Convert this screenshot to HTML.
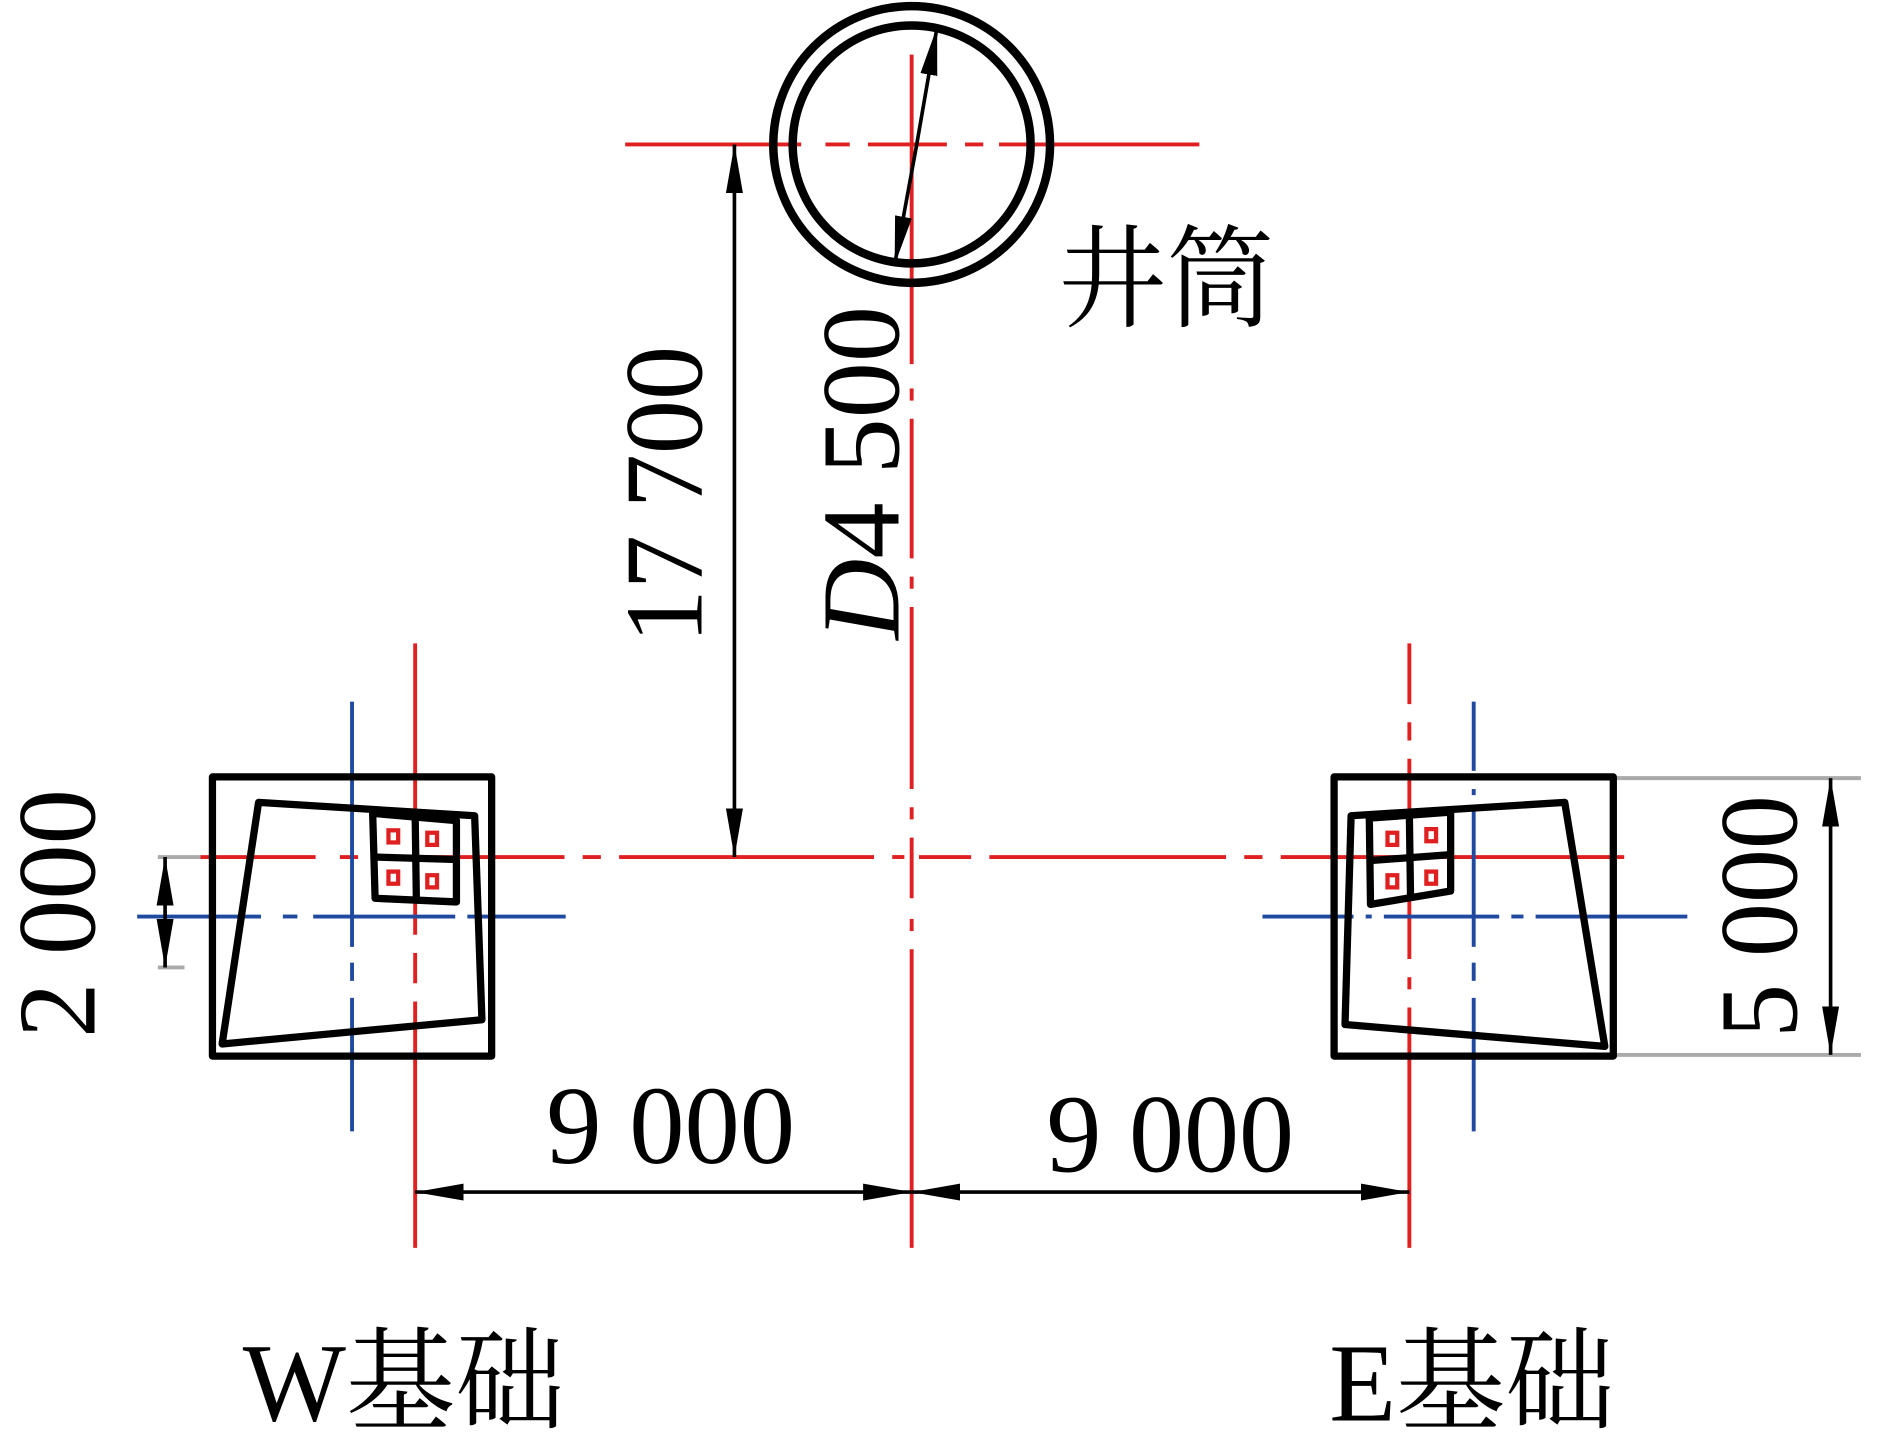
<!DOCTYPE html>
<html><head><meta charset="utf-8"><style>html,body{margin:0;padding:0;background:#fff;overflow:hidden}svg{display:block}</style></head>
<body>
<svg width="1901" height="1455" viewBox="0 0 1566 1198.6" preserveAspectRatio="none" xmlns="http://www.w3.org/2000/svg">
<defs>
<marker id="a" viewBox="0 0 40 14" refX="40" refY="7" markerWidth="40" markerHeight="14" markerUnits="userSpaceOnUse" orient="auto-start-reverse"><path d="M0,0 L40,7 L0,14 Z" fill="#000"/></marker>
</defs>
<g fill="none" stroke-width="3.2">
<g stroke="#e02020">
<line x1="515" y1="119" x2="660" y2="119"/><line x1="680" y1="119" x2="700" y2="119"/><line x1="715" y1="119" x2="780" y2="119"/><line x1="795" y1="119" x2="810" y2="119"/><line x1="823" y1="119" x2="988" y2="119"/>
<line x1="751" y1="45" x2="751" y2="300"/><line x1="751" y1="320" x2="751" y2="330"/><line x1="751" y1="345" x2="751" y2="460"/><line x1="751" y1="475" x2="751" y2="485"/><line x1="751" y1="500" x2="751" y2="650"/><line x1="751" y1="665" x2="751" y2="675"/><line x1="751" y1="690" x2="751" y2="740"/><line x1="751" y1="757" x2="751" y2="767"/><line x1="751" y1="782" x2="751" y2="1028"/>
<line x1="165" y1="706" x2="260" y2="706"/><line x1="280" y1="706" x2="295" y2="706"/><line x1="310" y1="706" x2="465" y2="706"/><line x1="480" y1="706" x2="495" y2="706"/><line x1="510" y1="706" x2="720" y2="706"/><line x1="735" y1="706" x2="745" y2="706"/><line x1="757" y1="706" x2="800" y2="706"/><line x1="815" y1="706" x2="1010" y2="706"/><line x1="1025" y1="706" x2="1040" y2="706"/><line x1="1055" y1="706" x2="1338" y2="706"/>
<line x1="342" y1="530" x2="342" y2="770"/><line x1="342" y1="785" x2="342" y2="810"/><line x1="342" y1="825" x2="342" y2="1028"/>
<line x1="1161" y1="530" x2="1161" y2="580"/><line x1="1161" y1="595" x2="1161" y2="610"/><line x1="1161" y1="625" x2="1161" y2="790"/><line x1="1161" y1="805" x2="1161" y2="815"/><line x1="1161" y1="830" x2="1161" y2="1028"/>
</g>
<g stroke="#1f4aa0">
<line x1="290" y1="578" x2="290" y2="780"/><line x1="290" y1="793" x2="290" y2="808"/><line x1="290" y1="822" x2="290" y2="932"/>
<line x1="113" y1="755" x2="215" y2="755"/><line x1="233" y1="755" x2="245" y2="755"/><line x1="258" y1="755" x2="375" y2="755"/><line x1="385" y1="755" x2="466" y2="755"/>
<line x1="1214" y1="578" x2="1214" y2="635"/><line x1="1214" y1="650" x2="1214" y2="655"/><line x1="1214" y1="668" x2="1214" y2="780"/><line x1="1214" y1="793" x2="1214" y2="808"/><line x1="1214" y1="822" x2="1214" y2="932"/>
<line x1="1040" y1="755" x2="1115" y2="755"/><line x1="1125" y1="755" x2="1130" y2="755"/><line x1="1140" y1="755" x2="1235" y2="755"/><line x1="1245" y1="755" x2="1255" y2="755"/><line x1="1265" y1="755" x2="1390" y2="755"/>
</g>
<g stroke="#aaa">
<line x1="130" y1="706" x2="165" y2="706"/><line x1="130" y1="797" x2="152" y2="797"/>
<line x1="1329" y1="641" x2="1533" y2="641"/><line x1="1329" y1="869" x2="1533" y2="869"/>
</g>
<circle cx="751" cy="119" r="114" stroke="#000" stroke-width="7"/>
<circle cx="751" cy="119" r="98" stroke="#000" stroke-width="7"/>
<g stroke="#000" stroke-width="3">
<line x1="755" y1="120" x2="772" y2="22" marker-end="url(#a)"/><line x1="755" y1="120" x2="737" y2="218" marker-end="url(#a)"/>
<line x1="605" y1="119" x2="605" y2="706" marker-start="url(#a)" marker-end="url(#a)"/>
<line x1="342" y1="982" x2="751" y2="982" marker-start="url(#a)" marker-end="url(#a)"/>
<line x1="751" y1="982" x2="1161" y2="982" marker-start="url(#a)" marker-end="url(#a)"/>
<line x1="136" y1="706" x2="136" y2="797" marker-start="url(#a)" marker-end="url(#a)"/>
<line x1="1508" y1="641" x2="1508" y2="869" marker-start="url(#a)" marker-end="url(#a)"/>
</g>
<g stroke="#000" stroke-width="6" stroke-linejoin="round">
<rect x="175" y="640" width="230" height="230"/>
<polygon points="213,661 391,672 397,840 183,860"/>
<polygon points="307,670 376,676 376,743 309,740"/>
<line x1="342" y1="672" x2="343" y2="742"/><line x1="308" y1="706" x2="376" y2="708"/>
<rect x="1099" y="640" width="230" height="230"/>
<polygon points="1113,672 1289,661 1322,862 1108,844"/>
<polygon points="1128,674 1195,669 1195,734 1129,745"/>
<line x1="1161" y1="672" x2="1162" y2="741"/><line x1="1128" y1="709" x2="1195" y2="704"/>
</g>
<g stroke="#e02020" stroke-width="3.5">
<rect x="320" y="684" width="8" height="10"/><rect x="352" y="686" width="8" height="10"/><rect x="320" y="718" width="8" height="10"/><rect x="352" y="721" width="8" height="10"/>
<rect x="1143" y="686" width="8" height="10"/><rect x="1175" y="683" width="8" height="10"/><rect x="1143" y="721" width="8" height="10"/><rect x="1175" y="718" width="8" height="10"/>
</g>
</g>
<g font-family="'Liberation Serif','Noto Serif CJK SC',serif" fill="#000">
<text x="872" y="262" font-size="92" textLength="178" lengthAdjust="spacingAndGlyphs">井筒</text>
<text transform="translate(578,530) rotate(-90)" font-size="92" textLength="245" lengthAdjust="spacingAndGlyphs">17 700</text>
<text transform="translate(740,527) rotate(-90)" font-size="92" textLength="275" lengthAdjust="spacingAndGlyphs"><tspan font-style="italic">D</tspan>4 500</text>
<text transform="translate(78,855) rotate(-90)" font-size="92" textLength="205" lengthAdjust="spacingAndGlyphs">2 000</text>
<text transform="translate(1480,855) rotate(-90)" font-size="92" textLength="200" lengthAdjust="spacingAndGlyphs">5 000</text>
<text x="450" y="958" font-size="92" textLength="205" lengthAdjust="spacingAndGlyphs">9 000</text>
<text x="862" y="965" font-size="92" textLength="204" lengthAdjust="spacingAndGlyphs">9 000</text>
<text x="200" y="1170" font-size="92" textLength="265" lengthAdjust="spacingAndGlyphs">W基础</text>
<text x="1095" y="1170" font-size="92" textLength="235" lengthAdjust="spacingAndGlyphs">E基础</text>
</g>
</svg>
</body></html>
